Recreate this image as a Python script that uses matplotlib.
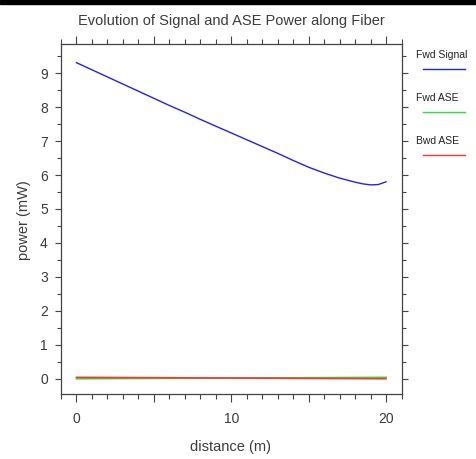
import matplotlib
matplotlib.use("Agg")
import matplotlib.pyplot as plt
from matplotlib.lines import Line2D
from matplotlib.patches import Rectangle
from matplotlib.ticker import MultipleLocator

plt.rcParams['font.family'] = ['Liberation Sans', 'DejaVu Sans']

# Data
distance = [0, 1, 2, 3, 4, 5, 6, 7, 8, 9, 10, 11, 12, 13, 14, 15, 16, 17, 18, 18.5, 19, 19.5, 20]
fwd_signal = [9.31, 9.10, 8.89, 8.68, 8.47, 8.26, 8.05, 7.85, 7.64, 7.44, 7.24,
              7.04, 6.84, 6.64, 6.43, 6.23, 6.06, 5.91, 5.79, 5.74, 5.71, 5.72, 5.80]
ase_x = [0, 5, 10, 15, 20]
fwd_ase = [0.0, 0.01, 0.02, 0.03, 0.04]
bwd_ase = [0.04, 0.03, 0.02, 0.01, 0.0]

labels = ['Fwd Signal', 'Fwd ASE', 'Bwd ASE']
colors = ['#2020ff', '#33dd33', '#ff3333']
title = 'Evolution of Signal and ASE Power along Fiber'
xlabel = 'distance (m)'
ylabel = 'power (mW)'

W, H = 476, 459
fig = plt.figure(figsize=(W / 100, H / 100), dpi=100)
fig.patch.set_facecolor('white')

ax = fig.add_axes([61 / W, 1 - 394 / H, 340.5 / W, 350 / H])
ax.plot(distance, fwd_signal, color=colors[0], lw=1.0)
ax.plot(ase_x, fwd_ase, color=colors[1], lw=1.2)
ax.plot(ase_x, bwd_ase, color=colors[2], lw=1.2)

ax.set_xlim(-1, 21)
ax.set_ylim(-0.45, 9.86)

gray = '#444444'
txt = '#3c3c3c'
for s in ax.spines.values():
    s.set_color(gray)
    s.set_linewidth(0.9)

ax.xaxis.set_minor_locator(MultipleLocator(1))
ax.set_xticks([0, 5, 10, 15, 20])
ax.set_xticklabels(['0', '', '10', '', '20'])
ax.yaxis.set_minor_locator(MultipleLocator(0.5))
ax.set_yticks(range(0, 10))

ax.tick_params(axis='both', which='both', direction='out', colors=gray,
               labelcolor=txt, top=True, right=True, width=0.8)
ax.tick_params(axis='x', which='major', length=6, pad=7, labelsize=10)
ax.tick_params(axis='x', which='minor', length=3.5)
ax.tick_params(axis='y', which='major', length=4.5, pad=5, labelsize=10)
ax.tick_params(axis='y', which='minor', length=3)

# Title and axis labels
fig.text(231 / W, 1 - 25 / H, title, ha='center', va='baseline',
         fontsize=10.5, color=txt)
fig.text(231 / W, 1 - 451.5 / H, xlabel, ha='center', va='baseline',
         fontsize=10.5, color=txt)
fig.text(24 / W, 1 - 220 / H, ylabel, ha='center', va='center',
         rotation=90, fontsize=10.5, color=txt)

# Legend (manual, outside right)
for i, (lab, col) in enumerate(zip(labels, colors)):
    base = 57.7 + i * 43
    fig.text(416.5 / W, 1 - base / H, lab, ha='left', va='baseline',
             fontsize=7.5, color='#222222')
    ly = 1 - (base + 11.5) / H
    fig.add_artist(Line2D([423 / W, 464.5 / W], [ly, ly], color=col, lw=1.0,
                          transform=fig.transFigure))

# Black strip at top
fig.add_artist(Rectangle((0, 1 - 3.5 / H), 1, 3.5 / H, color='black',
                         transform=fig.transFigure))

fig.savefig('out.png', dpi=100)
